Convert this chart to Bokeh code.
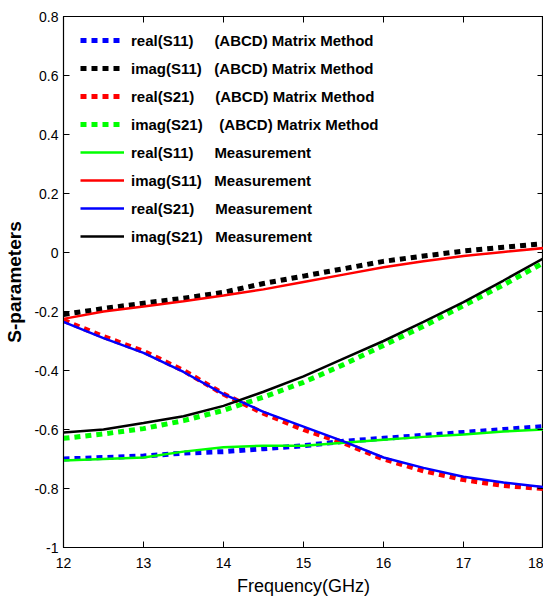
from bokeh.plotting import figure
from bokeh.models import LinearAxis, Legend, LegendItem, FixedTicker, Range1d
from bokeh.embed import file_html
from bokeh.resources import INLINE

freq = [12.0, 12.5, 13.0, 13.5, 14.0, 14.5, 15.0, 15.5, 16.0, 16.5, 17.0, 17.5, 18.0]

# ABCD matrix method (dotted)
re_s11_abcd = [-0.700, -0.695, -0.690, -0.680, -0.675, -0.665, -0.655, -0.640, -0.630, -0.620, -0.610, -0.600, -0.590]
im_s11_abcd = [-0.210, -0.190, -0.172, -0.155, -0.135, -0.105, -0.080, -0.055, -0.030, -0.012, 0.005, 0.018, 0.030]
re_s21_abcd = [-0.230, -0.285, -0.335, -0.400, -0.480, -0.545, -0.600, -0.645, -0.700, -0.740, -0.770, -0.790, -0.800]
im_s21_abcd = [-0.630, -0.615, -0.597, -0.570, -0.535, -0.490, -0.440, -0.380, -0.315, -0.250, -0.180, -0.110, -0.035]

# Measurement (solid)
re_s11_meas = [-0.705, -0.700, -0.695, -0.675, -0.660, -0.655, -0.655, -0.645, -0.635, -0.625, -0.617, -0.607, -0.600]
im_s11_meas = [-0.225, -0.200, -0.183, -0.165, -0.146, -0.125, -0.100, -0.075, -0.050, -0.030, -0.012, 0.002, 0.015]
re_s21_meas = [-0.235, -0.290, -0.340, -0.405, -0.480, -0.540, -0.590, -0.640, -0.695, -0.730, -0.760, -0.780, -0.795]
im_s21_meas = [-0.610, -0.600, -0.578, -0.555, -0.520, -0.472, -0.420, -0.360, -0.300, -0.235, -0.168, -0.095, -0.020]

x_ticks = [12, 13, 14, 15, 16, 17, 18]
y_ticks = [-1.0, -0.8, -0.6, -0.4, -0.2, 0.0, 0.2, 0.4, 0.6, 0.8]
y_tick_labels = ["-1", "-0.8", "-0.6", "-0.4", "-0.2", "0", "0.2", "0.4", "0.6", "0.8"]

NB = "\u00a0"
labels = [
    "real(S11)" + NB * 5 + "(ABCD) Matrix Method",
    "imag(S11)" + NB * 3 + "(ABCD) Matrix Method",
    "real(S21)" + NB * 5 + "(ABCD) Matrix Method",
    "imag(S21)" + NB * 4 + "(ABCD) Matrix Method",
    "real(S11)" + NB * 5 + "Measurement",
    "imag(S11)" + NB * 3 + "Measurement",
    "real(S21)" + NB * 5 + "Measurement",
    "imag(S21)" + NB * 3 + "Measurement",
]

FONT = "Liberation Sans Narrow, Liberation Sans, Arial, sans-serif"
GREEN = "#00ff00"

p = figure(width=543, height=598, output_backend="svg", toolbar_location=None,
           x_range=Range1d(12, 18), y_range=Range1d(-1, 0.8),
           min_border_left=63, min_border_right=0, min_border_top=16, min_border_bottom=50)
p.grid.visible = False
p.outline_line_color = "black"
p.outline_line_width = 1.2
p.background_fill_color = "white"

dash = "6 5"
r1 = p.line(freq, re_s11_abcd, line_color="#0000ff", line_width=5, line_dash=dash)
r2 = p.line(freq, im_s11_abcd, line_color="#000000", line_width=5, line_dash=dash)
r3 = p.line(freq, re_s21_abcd, line_color="#ff0000", line_width=5, line_dash=dash)
r4 = p.line(freq, im_s21_abcd, line_color=GREEN, line_width=5, line_dash=dash)
r5 = p.line(freq, re_s11_meas, line_color=GREEN, line_width=2.5)
r6 = p.line(freq, im_s11_meas, line_color="#ff0000", line_width=2.5)
r7 = p.line(freq, re_s21_meas, line_color="#0000ff", line_width=2.5)
r8 = p.line(freq, im_s21_meas, line_color="#000000", line_width=2.5)
renderers = [r1, r2, r3, r4, r5, r6, r7, r8]

def style_axis(ax):
    ax.major_tick_in = 6
    ax.major_tick_out = 0
    ax.minor_tick_in = 0
    ax.minor_tick_out = 0
    ax.axis_line_color = "black"
    ax.major_tick_line_color = "black"
    ax.major_label_text_font = FONT
    ax.major_label_text_font_size = "14px"
    ax.major_label_text_color = "black"
    ax.major_label_standoff = 3

xa = p.xaxis[0]
xa.ticker = FixedTicker(ticks=x_ticks)
style_axis(xa)
xa.major_label_standoff = 10
xa.axis_label = "Frequency(GHz)"
xa.axis_label_text_font = "Liberation Sans, Arial, sans-serif"
xa.axis_label_text_font_size = "18px"
xa.axis_label_text_font_style = "normal"
xa.axis_label_text_color = "black"
xa.axis_label_standoff = 5

ya = p.yaxis[0]
ya.ticker = FixedTicker(ticks=y_ticks)
ya.major_label_overrides = {t: l for t, l in zip(y_ticks, y_tick_labels)}
style_axis(ya)
ya.major_label_standoff = 5
ya.axis_label = "S-parameters"
ya.axis_label_text_font = "Liberation Sans, Arial, sans-serif"
ya.axis_label_text_font_size = "19px"
ya.axis_label_text_font_style = "bold"
ya.axis_label_text_color = "black"
ya.axis_label_standoff = 6

top = LinearAxis(ticker=FixedTicker(ticks=x_ticks))
style_axis(top)
top.major_label_overrides = {t: "" for t in x_ticks}
top.major_label_standoff = 0
top.major_label_text_font_size = "1px"
p.add_layout(top, "above")
right = LinearAxis(ticker=FixedTicker(ticks=y_ticks))
style_axis(right)
right.major_label_overrides = {t: "" for t in y_ticks}
right.major_label_standoff = 0
right.major_label_text_font_size = "1px"
p.add_layout(right, "right")

legend = Legend(items=[LegendItem(label=l, renderers=[r]) for l, r in zip(labels, renderers)],
                location=(17, 301))
legend.border_line_color = None
legend.background_fill_alpha = 0
legend.label_text_font = FONT
legend.label_text_font_size = "15px"
legend.label_text_font_style = "bold"
legend.label_text_color = "black"
legend.glyph_width = 44
legend.glyph_height = 20
legend.label_height = 20
legend.spacing = 8
legend.label_standoff = 7
legend.margin = 0
legend.padding = 0
p.add_layout(legend)

open("out.html", "w").write(file_html(p, INLINE))
